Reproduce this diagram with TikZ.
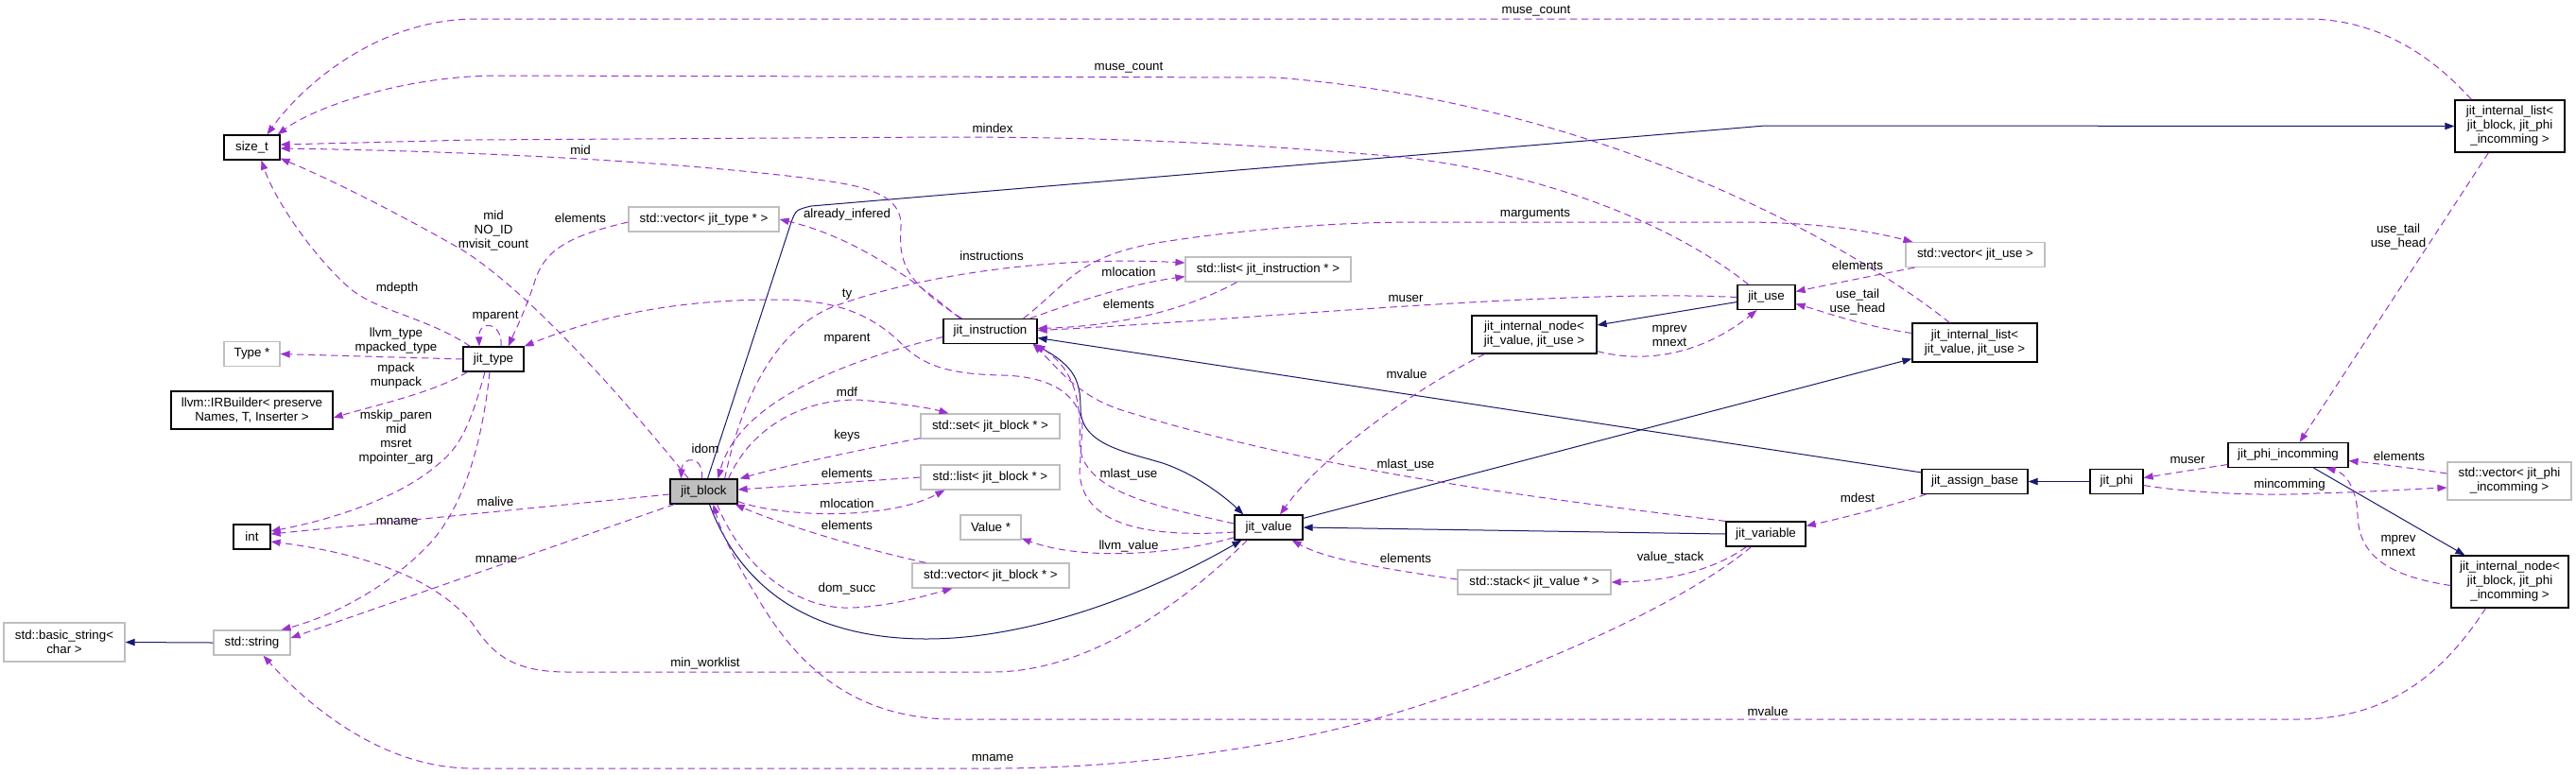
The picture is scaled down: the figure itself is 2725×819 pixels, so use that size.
\documentclass[tikz,border=0pt]{standalone}
\usepackage{fontspec}
\setmainfont{Liberation Sans}
\usetikzlibrary{arrows.meta, calc}
\definecolor{doxpurple}{HTML}{9A32CD}
\definecolor{doxblue}{HTML}{191970}
\definecolor{doxgrey}{HTML}{BFBFBF}
\tikzstyle{cls} = [rectangle, draw=black, line width=0.9pt, fill=white, inner sep=0pt, align=center, minimum height=19.5pt]
\tikzstyle{ext} = [cls, draw=doxgrey]
\tikzstyle{lbl} = [inner sep=0pt, align=center, text=black]
\tikzstyle{member} = [line width=0.75pt, color=doxpurple, dash pattern=on 5.5pt off 3.5pt, -{Triangle[length=7.5pt,width=5.5pt]}]
\tikzstyle{inherit} = [line width=0.75pt, color=doxblue, -{Triangle[length=7.5pt,width=5.5pt]}]
\begin{document}
\begin{tikzpicture}[x=0.75pt, y=-0.75pt, font=\fontsize{10}{11.25}\selectfont]
	\useasboundingbox (0,0) rectangle (2725,819);
	% classes
	\node (SizeT) [cls, minimum width=44.25pt] at (266.5,156) {size\_t};
	\node (TypePtr) [ext, minimum width=44.25pt] at (266.5,374.5) {Type *};
	\node (IRBuilder) [cls, minimum width=128.25pt, minimum height=30pt] at (266.5,434) {llvm::IRBuilder< preserve\\Names, T, Inserter >};
	\node (Int) [cls, minimum width=29.25pt] at (266.5,568) {int};
	\node (StdString) [ext, minimum width=60.75pt] at (266.5,680) {std::string};
	\node (BasicString) [ext, minimum width=96pt, minimum height=30.75pt] at (68,679.5) {std::basic\_string<\\char >};
	\node (JitType) [cls, minimum width=48pt] at (522,380) {jit\_type};
	\node (VecType) [ext, minimum width=119.25pt] at (744.5,232) {std::vector< jit\_type * >};
	\node (JitBlock) [cls, fill=doxgrey, minimum width=53.25pt] at (744.5,520) {jit\_block};
	\node (JitInstr) [cls, minimum width=74.25pt] at (1047.5,350.5) {jit\_instruction};
	\node (ListInstr) [ext, minimum width=131.25pt] at (1341.5,285) {std::list< jit\_instruction * >};
	\node (SetBlock) [ext, minimum width=110.25pt] at (1047.5,451) {std::set< jit\_block * >};
	\node (ListBlock) [ext, minimum width=110.25pt] at (1047.5,505) {std::list< jit\_block * >};
	\node (ValuePtr) [ext, minimum width=48pt] at (1048,558) {Value *};
	\node (VecBlock) [ext, minimum width=124.5pt] at (1048,609) {std::vector< jit\_block * >};
	\node (JitValue) [cls, minimum width=54pt] at (1342,558) {jit\_value};
	\node (JitUse) [cls, minimum width=45.75pt] at (1868.5,314.5) {jit\_use};
	\node (NodeValue) [cls, minimum width=99pt, minimum height=30pt] at (1623,354) {jit\_internal\_node<\\jit\_value, jit\_use >};
	\node (JitVariable) [cls, minimum width=63pt] at (1868,565) {jit\_variable};
	\node (StackValue) [ext, minimum width=121.5pt] at (1623,616) {std::stack< jit\_value * >};
	\node (ListBlockPhi) [cls, minimum width=87pt, minimum height=41.25pt] at (2655,133.5) {jit\_internal\_list<\\jit\_block, jit\_phi\\\_incomming >};
	\node (VecUse) [ext, minimum width=110.25pt] at (2089.5,269.5) {std::vector< jit\_use >};
	\node (ListValue) [cls, minimum width=99pt, minimum height=30.75pt] at (2089,362.5) {jit\_internal\_list<\\jit\_value, jit\_use >};
	\node (AssignBase) [cls, minimum width=84pt] at (2089,509.5) {jit\_assign\_base};
	\node (JitPhi) [cls, minimum width=42pt] at (2239,509.5) {jit\_phi};
	\node (PhiInc) [cls, minimum width=95.25pt] at (2420.5,481.5) {jit\_phi\_incomming};
	\node (VecPhiInc) [ext, minimum width=98.25pt, minimum height=30pt] at (2654.5,509) {std::vector< jit\_phi\\\_incomming >};
	\node (NodeBlockPhi) [cls, minimum width=93pt, minimum height=41.25pt] at (2655,615.5) {jit\_internal\_node<\\jit\_block, jit\_phi\\\_incomming >};
	% inheritance
	\draw [inherit] ($(JitBlock.north)+(4,0)$) -- (837,235) .. controls (842,222) .. (858,218) -- (1867,133) -- (ListBlockPhi.west);
	\draw [inherit] ($(JitInstr.south east)+(-4,0)$) .. controls (1135,385) and (1143,400) .. (1143,432) .. controls (1143,470) and (1190,478) .. (1230,490) .. controls (1265,502) and (1295,525) .. ($(JitValue.north west)+(10,0)$);
	\draw [inherit] ($(JitBlock.south)+(6,0)$) .. controls (790,640) and (880,676) .. (980,676) .. controls (1100,676) and (1230,620) .. ($(JitValue.south west)+(8,0)$);
	\draw [inherit] (JitVariable.west) -- (JitValue.east);
	\draw [inherit] ($(JitValue.north east)+(0,4)$) -- ($(ListValue.south west)+(0,-4)$);
	\draw [inherit] ($(JitUse.west)+(0,5)$) -- ($(NodeValue.east)+(0,-10)$);
	\draw [inherit] (JitPhi.west) -- (AssignBase.east);
	\draw [inherit] ($(AssignBase.north west)+(0,4)$) -- ($(JitInstr.east)+(0,7)$);
	\draw [inherit] ($(PhiInc.south)+(27,0)$) -- ($(NodeBlockPhi.north west)+(15,0)$);
	\draw [inherit] (StdString.west) -- (BasicString.east);
	% members into size_t
	\draw [member] ($(ListBlockPhi.north west)+(18,0)$) .. controls (2560,45) and (2500,20) .. (2440,20) -- (504,20) .. controls (400,20) and (320,90) .. ($(SizeT.north)+(16,0)$)
		node[lbl] (LabMuseA) at (1625,12) {muse\_count};
	\draw [member] ($(ListValue.north west)+(40,0)$) .. controls (1960,260) and (1700,110) .. (1350,82) -- (520,80) .. controls (420,82) and (330,115) .. ($(SizeT.north east)+(-3,0)$)
		node[lbl] (LabMuseB) at (1194,72) {muse\_count};
	\draw [member] ($(JitUse.north west)+(12,0)$) .. controls (1780,245) and (1650,185) .. (1480,166) .. controls (1300,150) and (1150,145) .. (1000,145) -- (500,148) -- ($(SizeT.east)+(0,-3)$)
		node[lbl] (LabMindex) at (1050,136) {mindex};
	\draw [member] ($(JitInstr.north west)+(20,0)$) .. controls (960,300) and (950,280) .. (953,240) .. controls (955,200) and (900,195) .. (850,188) .. controls (700,170) and (500,160) .. ($(SizeT.east)+(0,1)$)
		node[lbl] (LabMidInstr) at (614,159) {mid};
	\draw [member] ($(JitBlock.north west)+(20,0)$) .. controls (650,410) and (560,310) .. (490,265) .. controls (420,225) and (350,190) .. ($(SizeT.south east)+(0,-2)$)
		node[lbl] (LabMidBlock) at (522,244) {mid\\NO\_ID\\mvisit\_count};
	\draw [member] ($(JitType.north west)+(8,0)$) .. controls (450,335) and (400,330) .. (370,305) .. controls (330,270) and (290,210) .. ($(SizeT.south)+(10,0)$)
		node[lbl] (LabMdepth) at (420,305) {mdepth};
	% jit_type
	\draw [member] (JitType.west) -- (TypePtr.east)
		node[lbl] (LabLlvmType) at (419,360.5) {llvm\_type\\mpacked\_type};
	\draw [member] ($(JitType.south west)+(5,0)$) .. controls (460,415) and (400,428) .. ($(IRBuilder.east)+(0,8)$)
		node[lbl] (LabMpack) at (419,398) {mpack\\munpack};
	\draw [member] ($(JitType.south)+(-9,0)$) .. controls (500,440) and (490,470) .. (465,490) .. controls (420,530) and (340,552) .. ($(Int.east)+(0,-6)$)
		node[lbl] (LabMskip) at (419,463) {mskip\_paren\\mid\\msret\\mpointer\_arg};
	\draw [member] ($(JitType.south)+(-4,0)$) .. controls (510,470) and (490,540) .. (450,580) .. controls (400,630) and (340,655) .. ($(StdString.north east)+(-10,0)$)
		node[lbl] (LabMnameType) at (420,552) {mname};
	\draw [member] ($(JitType.north)+(8,0)$) .. controls (532,340) and (506,338) .. ($(JitType.north)+(-15,0)$)
		node[lbl] (LabMparentType) at (524,335) {mparent};
	\draw [member] ($(VecType.west)+(0,3)$) .. controls (600,250) and (575,265) .. (565,300) .. controls (555,330) and (545,350) .. ($(JitType.north east)+(-17,0)$)
		node[lbl] (LabElemType) at (614,231) {elements};
	% jit_block
	\draw [member] ($(JitBlock.west)+(0,3)$) -- ($(Int.east)+(0,-3)$)
		node[lbl] (LabMalive) at (524,531) {malive};
	\draw [member] ($(JitBlock.south west)+(5,0)$) -- ($(StdString.east)+(0,-5)$)
		node[lbl] (LabMnameBlock) at (525,592) {mname};
	\draw [member] ($(JitBlock.north)+(-2,0)$) .. controls (745,482) and (722,482) .. ($(JitBlock.north west)+(12,0)$)
		node[lbl] (LabIdom) at (746,475) {idom};
	\draw [member] ($(JitBlock.north east)+(-10,0)$) .. controls (800,440) and (870,418) .. (920,424) .. controls (960,428) and (985,432) .. ($(SetBlock.north west)+(30,0)$)
		node[lbl] (LabMdf) at (896,415) {mdf};
	\draw [member] ($(SetBlock.south west)+(0,-1)$) .. controls (900,478) and (830,493) .. ($(JitBlock.north east)+(2,0)$)
		node[lbl] (LabKeys) at (896,461) {keys};
	\draw [member] (ListBlock.west) -- ($(JitBlock.east)+(0,-2)$)
		node[lbl] (LabElemList) at (896,501) {elements};
	\draw [member] ($(JitBlock.south east)+(0,-3)$) .. controls (830,548) and (940,550) .. ($(ListBlock.south west)+(26,0)$)
		node[lbl] (LabMlocBlock) at (896,533) {mlocation};
	\draw [member] ($(VecBlock.north west)+(15,0)$) .. controls (900,578) and (820,552) .. ($(JitBlock.south east)+(-3,0)$)
		node[lbl] (LabElemVec) at (896,556) {elements};
	\draw [member] ($(JitBlock.south)+(14,0)$) .. controls (790,610) and (850,645) .. (900,643) .. controls (940,642) and (980,630) .. ($(VecBlock.south west)+(43,0)$)
		node[lbl] (LabDomSucc) at (896,623) {dom\_succ};
	\draw [member] ($(JitBlock.north east)+(-14,0)$) .. controls (785,420) and (820,350) .. (880,325) .. controls (960,295) and (1100,270) .. ($(ListInstr.west)+(0,-7)$)
		node[lbl] (LabInstructions) at (1049,271) {instructions};
	% jit_instruction
	\draw [member] ($(JitInstr.west)+(0,6)$) .. controls (880,385) and (780,430) .. ($(JitBlock.north)+(15,0)$)
		node[lbl] (LabMparentInstr) at (896,359) {mparent};
	\draw [member] ($(JitInstr.north west)+(18,0)$) .. controls (960,290) and (900,250) .. (VecType.east)
		node[lbl] (LabInfered) at (896,227) {already\_infered};
	\draw [member] ($(JitInstr.north east)+(-8,0)$) .. controls (1150,315) and (1200,300) .. ($(ListInstr.south west)+(0,-6)$)
		node[lbl] (LabMlocInstr) at (1194,288) {mlocation};
	\draw [member] ($(ListInstr.south west)+(55,0)$) .. controls (1250,330) and (1180,345) .. ($(JitInstr.east)+(0,-3)$)
		node[lbl] (LabElemInstr) at (1194,322) {elements};
	\draw [member] (JitUse.west) .. controls (1650,305) and (1300,340) .. ($(JitInstr.east)+(0,-1)$)
		node[lbl] (LabMuserUse) at (1487,316) {muser};
	\draw [member] ($(JitInstr.north east)+(-15,0)$) .. controls (1130,300) and (1140,270) .. (1230,256) .. controls (1300,245) and (1400,235) .. (1500,235) -- (1850,235) .. controls (1930,236) and (1980,245) .. ($(VecUse.north west)+(8,0)$)
		node[lbl] (LabMarguments) at (1624,227) {marguments};
	% jit_use and lists
	\draw [member] ($(VecUse.south west)+(10,0)$) .. controls (1980,292) and (1930,302) .. ($(JitUse.east)+(0,-6)$)
		node[lbl] (LabElemUse) at (1965,281) {elements};
	\draw [member] ($(ListValue.west)+(0,-10)$) .. controls (1970,345) and (1930,330) .. ($(JitUse.east)+(0,7)$)
		node[lbl] (LabUseTailA) at (1965,319.5) {use\_tail\\use\_head};
	\draw [member] ($(NodeValue.south east)+(0,-3)$) .. controls (1740,385) and (1800,375) .. ($(JitUse.south)+(-10,0)$)
		node[lbl] (LabMprevA) at (1766,355) {mprev\\mnext};
	\draw [member] ($(NodeValue.south west)+(14,0)$) .. controls (1500,410) and (1400,480) .. ($(JitValue.north)+(12,0)$)
		node[lbl] (LabMvalueA) at (1488,396) {mvalue};
	% jit_value
	\draw [member] ($(JitValue.west)+(0,-4)$) .. controls (1220,535) and (1145,520) .. (1142,470) .. controls (1144,420) and (1135,390) .. ($(JitInstr.south east)+(-2,0)$)
		node[lbl] (LabMlastValue) at (1194,502) {mlast\_use};
	\draw [member] (JitVariable.north west) .. controls (1650,530) and (1400,500) .. (1190,435) .. controls (1140,420) and (1120,390) .. ($(JitInstr.south east)+(-5,0)$)
		node[lbl] (LabMlastVar) at (1487,492) {mlast\_use};
	\draw [member] ($(JitValue.west)+(0,5)$) .. controls (1200,570) and (1145,550) .. (1142,500) -- (1145,450) .. controls (1140,410) and (1100,398) .. (1060,397) .. controls (1000,396) and (975,385) .. (955,365) .. controls (920,330) and (880,317) .. (820,317) .. controls (700,317) and (620,340) .. (JitType.north east)
		node[lbl] (LabTy) at (896,312) {ty};
	\draw [member] ($(JitValue.south west)+(0,-3)$) .. controls (1250,585) and (1150,595) .. ($(ValuePtr.south east)+(0,-2)$)
		node[lbl] (LabLlvmValue) at (1194,578) {llvm\_value};
	\draw [member] ($(JitValue.south west)+(14,0)$) .. controls (1250,640) and (1150,711) .. (1050,711) -- (600,711) .. controls (540,711) and (520,690) .. (500,660) .. controls (460,610) and (380,585) .. ($(Int.east)+(0,5)$)
		node[lbl] (LabWorklist) at (746,702) {min\_worklist};
	\draw [member] ($(StackValue.west)+(0,-3)$) .. controls (1450,600) and (1400,590) .. ($(JitValue.south east)+(-12,0)$)
		node[lbl] (LabElemStack) at (1487,591) {elements};
	% jit_variable
	\draw [member] ($(JitVariable.south west)+(22,0)$) .. controls (1810,605) and (1760,615) .. (StackValue.east)
		node[lbl] (LabValueStack) at (1767,590) {value\_stack};
	\draw [member] ($(JitVariable.south west)+(27,0)$) .. controls (1780,640) and (1600,720) .. (1450,762) .. controls (1350,790) and (1200,813) .. (1050,813) -- (500,813) .. controls (400,813) and (320,740) .. ($(StdString.south)+(12,0)$)
		node[lbl] (LabMnameVar) at (1050,802) {mname};
	\draw [member] ($(AssignBase.south west)+(5,0)$) .. controls (2000,535) and (1950,548) .. ($(JitVariable.north east)+(0,5)$)
		node[lbl] (LabMdest) at (1965,527) {mdest};
	% phi
	\draw [member] ($(PhiInc.west)+(0,10)$) .. controls (2320,497) and (2290,502) .. ($(JitPhi.east)+(0,-4)$)
		node[lbl] (LabMuserPhi) at (2314,487) {muser};
	\draw [member] ($(JitPhi.east)+(0,4)$) .. controls (2320,522) and (2400,525) .. (2450,522) .. controls (2520,520) and (2560,517) .. ($(VecPhiInc.west)+(0,7)$)
		node[lbl] (LabMincomming) at (2422,513) {mincomming};
	\draw [member] ($(VecPhiInc.west)+(0,-8)$) .. controls (2550,495) and (2510,490) .. ($(PhiInc.east)+(0,6)$)
		node[lbl] (LabElemPhi) at (2538,483) {elements};
	\draw [member] ($(NodeBlockPhi.west)+(0,4)$) .. controls (2530,610) and (2495,590) .. (2494,545) .. controls (2493,515) and (2480,500) .. ($(PhiInc.south)+(40,0)$)
		node[lbl] (LabMprevB) at (2537,577.5) {mprev\\mnext};
	\draw [member] ($(ListBlockPhi.south west)+(36,0)$) -- ($(PhiInc.north)+(12,0)$)
		node[lbl] (LabUseTailB) at (2537,250) {use\_tail\\use\_head};
	\draw [member] ($(NodeBlockPhi.south west)+(37,0)$) .. controls (2580,720) and (2520,761) .. (2430,761) -- (1010,761) .. controls (900,761) and (840,700) .. (800,630) .. controls (775,590) and (762,560) .. ($(JitBlock.south)+(10,0)$)
		node[lbl] (LabMvalueB) at (1870,753) {mvalue};
\end{tikzpicture}
\end{document}
